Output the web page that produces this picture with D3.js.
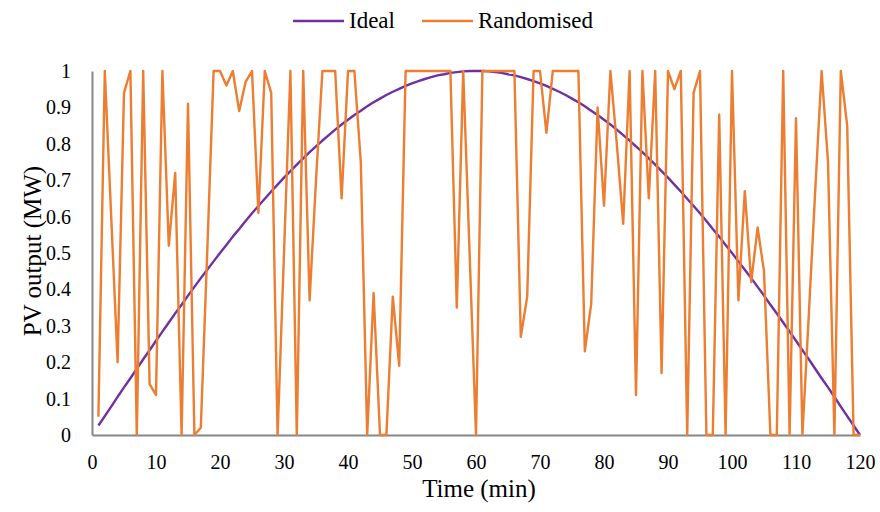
<!DOCTYPE html>
<html>
<head>
<meta charset="utf-8">
<script src="https://cdn.jsdelivr.net/npm/d3@7"></script>
<style>
  body { margin:0; background:#fff; }
  #chart { width:880px; height:512px; }
  svg text { font-family:"Liberation Serif", "Times New Roman", serif; fill:#000; }
</style>
</head>
<body>
<div id="chart"></div>
<script>
var minutes = d3.range(1, 121);

var ideal = [
  0.026,0.052,0.078,0.105,0.131,0.156,0.182,0.208,0.233,0.259,
  0.284,0.309,0.334,0.358,0.383,0.407,0.431,0.454,0.477,0.500,
  0.522,0.545,0.566,0.588,0.609,0.629,0.649,0.669,0.688,0.707,
  0.725,0.743,0.760,0.777,0.793,0.809,0.824,0.839,0.853,0.866,
  0.879,0.891,0.903,0.914,0.924,0.934,0.943,0.951,0.959,0.966,
  0.972,0.978,0.983,0.988,0.991,0.995,0.997,0.999,1.000,1.000,
  1.000,0.999,0.997,0.995,0.991,0.988,0.983,0.978,0.972,0.966,
  0.959,0.951,0.943,0.934,0.924,0.914,0.903,0.891,0.879,0.866,
  0.853,0.839,0.824,0.809,0.793,0.777,0.760,0.743,0.725,0.707,
  0.688,0.669,0.649,0.629,0.609,0.588,0.566,0.545,0.522,0.500,
  0.477,0.454,0.431,0.407,0.383,0.358,0.334,0.309,0.284,0.259,
  0.233,0.208,0.182,0.156,0.131,0.105,0.078,0.052,0.026,0.000
];

var randomised = [
  0.05,1,0.6,0.2,0.94,1,0,1,0.14,0.11,
  1,0.52,0.72,0,0.91,0,0.02,0.5,1,1,
  0.96,1,0.89,0.97,1,0.61,1,0.94,0,0.5,
  1,0,1,0.37,0.7,1,1,1,0.65,1,
  1,0.75,0,0.39,0,0,0.38,0.19,1,1,
  1,1,1,1,1,1,0.35,1,0.5,0,
  1,1,1,1,1,1,0.27,0.38,1,1,
  0.83,1,1,1,1,1,0.23,0.36,0.9,0.63,
  1,0.8,0.58,1,0.11,1,0.65,1,0.17,1,
  0.95,1,0,0.94,1,0,0,0.88,0,1,
  0.37,0.67,0.42,0.57,0.45,0,0,1,0,0.87,
  0,0.33,0.67,1,0.75,0,1,0.85,0,0
];

var xTicks = d3.range(0, 121, 10);
var yTicks = d3.range(0, 11).map(function(i){ return i / 10; });

var seriesNames = ["Ideal", "Randomised"];
var seriesColors = ["#7030a0", "#ed7d31"];

function LineChart(){
    var width = 880, height = 512;
    var margin = {top:71, right:20, bottom:77, left:92};
    var plotWidth = 860 - margin.left;
    var plotHeight = height - margin.top - margin.bottom;
    var serif = '"Liberation Serif", "Times New Roman", serif';

    function chart(selection){
        selection.each(function(){
            var el = d3.select(this);
            el.html("");
            var svg = el.append('svg').attr('width', width).attr('height', height)
                .style('font-family', serif);
            var plotArea = svg.append('g')
                .attr("transform", "translate(" + margin.left + "," + margin.top + ")");

            var xs = d3.scaleLinear().domain([0, 120]).range([0, plotWidth]);
            var ys = d3.scaleLinear().domain([0, 1]).range([plotHeight, 0]);

            // axes: no tick marks, only labels
            var yAxis = plotArea.append('g')
                .call(d3.axisLeft(ys).tickValues(yTicks).tickSize(0).tickPadding(21)
                    .tickFormat(function(d){ return d === 0 || d === 1 ? d : d3.format(".1f")(d); }));
            yAxis.attr('font-family', null).attr('font-size', null);
            yAxis.select('.domain').attr('stroke', '#868686').attr('stroke-width', 2);
            yAxis.selectAll('text').style('font-size', '20px').style('font-family', serif);

            var xAxis = plotArea.append('g')
                .attr("transform", "translate(0," + plotHeight + ")")
                .call(d3.axisBottom(xs).tickValues(xTicks).tickSize(0).tickPadding(20));
            xAxis.attr('font-family', null).attr('font-size', null);
            xAxis.select('.domain').attr('stroke', '#868686').attr('stroke-width', 2);
            xAxis.selectAll('text').style('font-size', '20px').style('font-family', serif);

            var line = d3.line()
                .x(function(d){ return xs(d[0]); })
                .y(function(d){ return ys(d[1]); });

            var data = [ideal, randomised];
            plotArea.selectAll('path.series')
                .data(data)
                .enter().append('path')
                .attr('class', 'series')
                .attr('fill', 'none')
                .attr('stroke', function(d, i){ return seriesColors[i]; })
                .attr('stroke-width', 2.4)
                .attr('stroke-linejoin', 'round')
                .attr('d', function(d){
                    return line(minutes.map(function(m, j){ return [m, d[j]]; }));
                });

            // axis titles
            svg.append('text')
                .attr('x', 479)
                .attr('y', 497)
                .attr('text-anchor', 'middle')
                .style('font-size', '25px')
                .text('Time (min)');
            svg.append('text')
                .attr('transform', 'translate(41,' + (margin.top + plotHeight / 2 - 2) + ') rotate(-90)')
                .attr('text-anchor', 'middle')
                .style('font-size', '25px')
                .text('PV output (MW)');

            // legend
            var legendX = [293, 422];
            var legend = svg.selectAll('g.legend')
                .data(seriesNames)
                .enter().append('g')
                .attr('class', 'legend')
                .attr('transform', function(d, i){ return "translate(" + legendX[i] + ",21)"; });
            legend.append('line')
                .attr('x1', 0).attr('x2', 51)
                .attr('stroke', function(d, i){ return seriesColors[i]; })
                .attr('stroke-width', 2.4);
            legend.append('text')
                .attr('x', 56)
                .attr('y', 7)
                .style('font-size', '23px')
                .text(function(d){ return d; });
        });
    }

    return chart;
}

d3.select('#chart').call(LineChart());
</script>
</body>
</html>
